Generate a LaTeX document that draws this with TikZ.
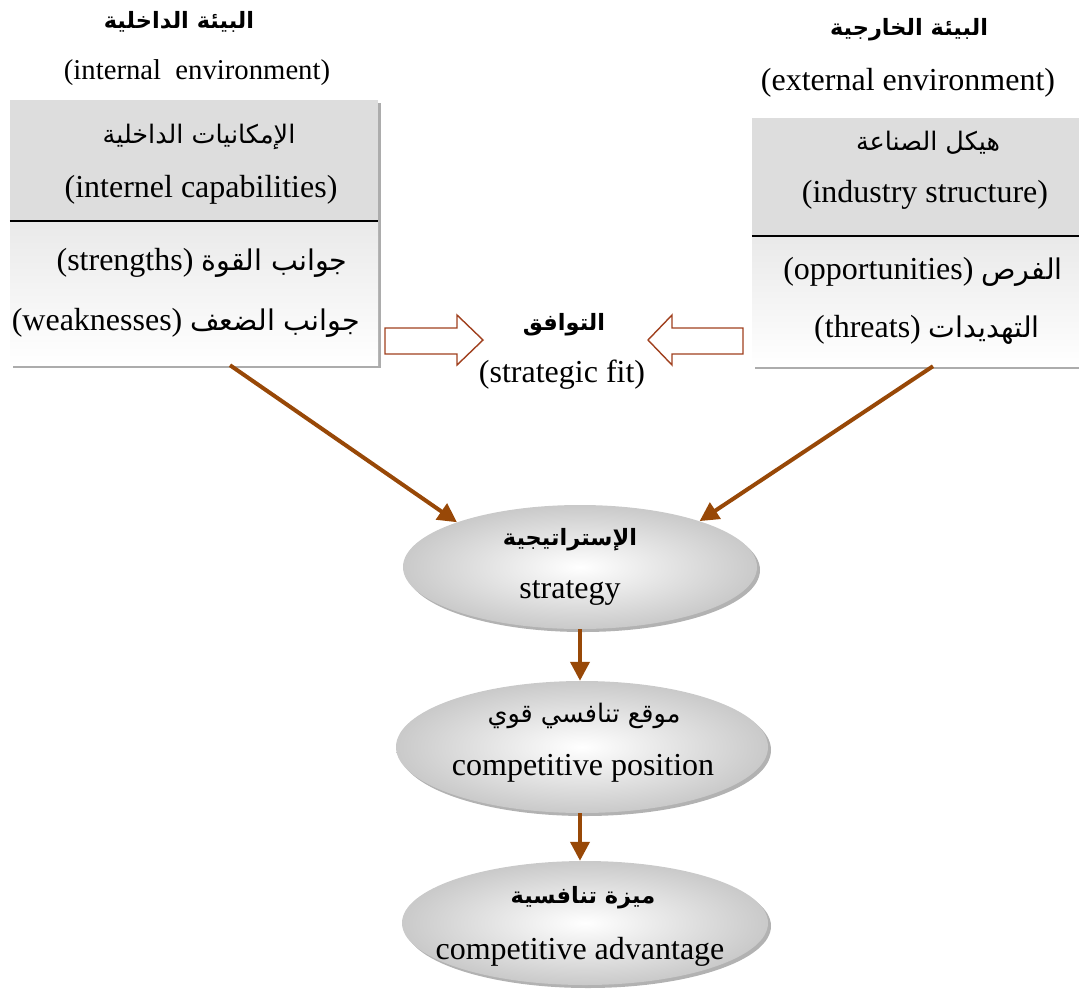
\documentclass[tikz,border=0pt]{standalone}
\usepackage{fontspec}
\setmainfont{Liberation Serif}
\newfontfamily\arabicfont[Script=Arabic]{DejaVu Sans}
\TeXXeTstate=1
\usetikzlibrary{arrows.meta,shadows,calc,shapes.geometric}
% right-to-left Arabic runs
\newcommand\artxt[1]{{\arabicfont\beginR #1\endR}}
\newcommand\arbold[1]{{\arabicfont\bfseries\beginR #1\endR}}
\newcommand\armix[1]{{\fontsize{28.5}{34}\arabicfont\beginR #1\endR}}
\definecolor{linkbrown}{RGB}{152,72,7}
\definecolor{hollowred}{RGB}{160,64,30}
\begin{document}
\begin{tikzpicture}[x=1pt,y=-1pt,
  txt/.style={inner sep=0pt, font=\fontsize{32}{38}\selectfont},
  smalltxt/.style={inner sep=0pt, font=\fontsize{28.7}{34}\selectfont},
  artitle/.style={inner sep=0pt, font=\fontsize{22.5}{28}\selectfont},
  arline/.style={inner sep=0pt, font=\fontsize{25.5}{30}\selectfont},
  panel/.style={rectangle, inner sep=0pt, fill=white, draw=none,
    drop shadow={shadow xshift=3pt, shadow yshift=-3pt, fill=gray!65, opacity=1}},
  headfill/.style={fill=gray!27},
  divider/.style={draw=black, line width=1.6pt},
  bubble/.style={ellipse, inner sep=0pt, inner color=white, outer color=gray!42,
    drop shadow={shadow xshift=3pt, shadow yshift=-3pt, fill=gray!60, opacity=1}},
  link/.style={draw=linkbrown, line width=4pt, -{Triangle[length=19pt,width=19pt]}},
  hollow/.style={draw=hollowred, line width=1.4pt, fill=white, line join=miter},
]
\useasboundingbox (0,0) rectangle (1079,999);

% ---------- internal environment ----------
\node[artitle] (intitle) at (179,22) {\arbold{البيئة الداخلية}};
\node[smalltxt] (intitleen) at (197,73) {(internal\ \ environment)};
\node[panel, minimum width=368pt, minimum height=265pt] (inbox) at (194,232.5) {};
\fill[headfill] (inbox.north west) rectangle (378,221);
\shade[top color=gray!17, bottom color=white] (10,221) rectangle (inbox.south east);
\draw[divider] (inbox.west |- 0,221) -- (inbox.east |- 0,221);
\node[arline] (incapar) at (199,137) {\artxt{الإمكانيات الداخلية}};
\node[txt] (incapen) at (201,190) {(internel capabilities)};
\node[txt] (instr) at (202,263) {(strengths) \armix{جوانب القوة}};
\node[txt] (inweak) at (186,323) {(weaknesses) \armix{جوانب الضعف}};

% ---------- external environment ----------
\node[artitle] (extitle) at (909,30) {\arbold{البيئة الخارجية}};
\node[txt] (extitleen) at (908,83) {(external environment)};
\node[panel, minimum width=330pt, minimum height=248pt] (exbox) at (917,242) {};
\fill[headfill] (exbox.north west) rectangle (1082,236);
\shade[top color=gray!17, bottom color=white] (752,236) rectangle (exbox.south east);
\draw[divider] (exbox.west |- 0,236) -- (exbox.east |- 0,236);
\node[arline] (exindar) at (928,143) {\artxt{هيكل الصناعة}};
\node[txt] (exinden) at (925,195) {(industry structure)};
\node[txt] (exopp) at (923,272) {(opportunities) \armix{الفرص}};
\node[txt] (exthr) at (927,330) {(threats) \armix{التهديدات}};

% ---------- strategic fit ----------
\node[artitle] (fitar) at (564,325) {\arbold{التوافق}};
\node[txt] (fiten) at (562,375) {(strategic fit)};
\draw[hollow] (385,328) -- (457,328) -- (457,315) -- (483,340) -- (457,365) -- (457,354) -- (385,354) -- cycle;
\draw[hollow] (743,328) -- (672,328) -- (672,315) -- (648,340) -- (672,365) -- (672,354) -- (743,354) -- cycle;

% ---------- chain of ellipses ----------
\node[bubble, minimum width=354pt, minimum height=124pt] (strat) at (580,567) {};
\node[artitle] (stratar) at (570,540) {\arbold{الإستراتيجية}};
\node[txt] (straten) at (570,593) {strategy};

\node[bubble, minimum width=372pt, minimum height=132pt] (pos) at (582,747) {};
\node[arline] (posar) at (584,716) {\artxt{موقع تنافسي قوي}};
\node[txt] (posen) at (583,768) {competitive position};

\node[bubble, minimum width=366pt, minimum height=124pt] (adv) at (585,923) {};
\node[artitle] (advar) at (583,898) {\arbold{ميزة تنافسية}};
\node[txt] (adven) at (580,952) {competitive advantage};

% ---------- connectors ----------
\draw[link] ($(inbox.south)+(36,0)$) -- (strat.160);
\draw[link] ($(exbox.south)+(16,0)$) -- (strat.21);
\draw[link] (strat.south) -- (strat.south |- pos.north);
\draw[link] (strat.south |- pos.south) -- (strat.south |- adv.north);
\end{tikzpicture}
\end{document}
